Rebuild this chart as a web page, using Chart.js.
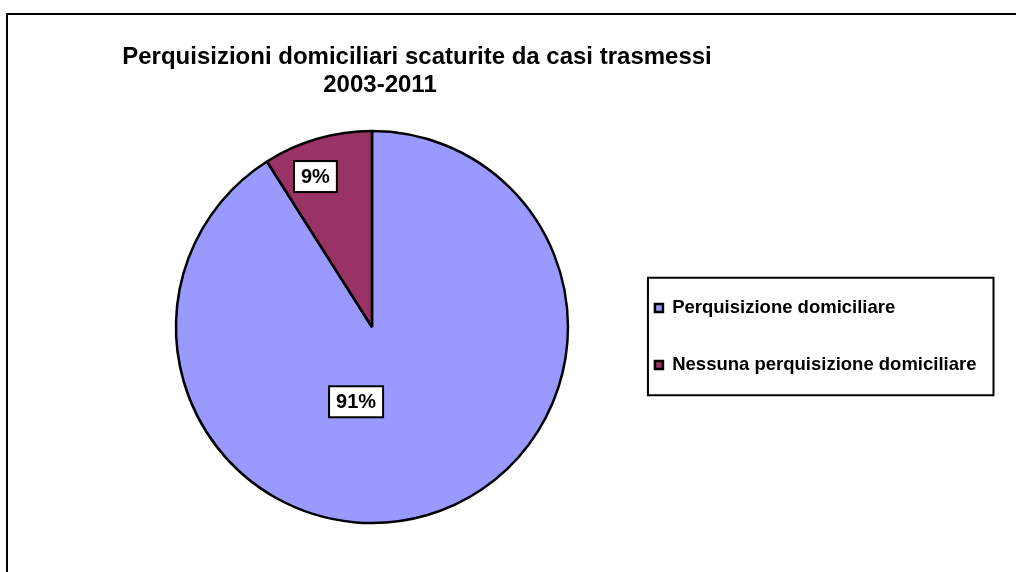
<!DOCTYPE html>
<html>
<head>
<meta charset="utf-8">
<script src="https://cdn.jsdelivr.net/npm/chart.js@4/dist/chart.umd.min.js"></script>
<style>
    html, body { margin: 0; padding: 0; background: #fff; overflow: hidden; }
    #wrap { position: relative; width: 1016px; height: 572px; overflow: hidden; }
    #frame {
        position: absolute; left: 6px; top: 13px; width: 1100px; height: 700px;
        border: 2px solid #000; box-sizing: border-box;
    }
    #chart { position: absolute; left: 0; top: 0; }
</style>
</head>
<body>
<div id="wrap">
    <div id="frame"></div>
    <canvas id="chart" width="1016" height="572"></canvas>
</div>
<script>
// data
const categories = ["Perquisizione domiciliare", "Nessuna perquisizione domiciliare"];
const values = [91, 9];
const valueLabels = ["91%", "9%"];
const titleLines = ["Perquisizioni domiciliari scaturite da casi trasmessi", "2003-2011"];
const sliceColors = ["#9999FF", "#993366"];

const FONT = "'Liberation Sans', Arial, sans-serif";

// title drawn as two lines, each at its own centre (as in the original)
const titlePlugin = {
    id: "twoLineTitle",
    afterDraw(chart, args, opts) {
        const ctx = chart.ctx;
        ctx.save();
        ctx.fillStyle = "#000";
        ctx.font = "bold " + opts.size + "px " + FONT;
        ctx.textAlign = "center";
        ctx.textBaseline = "alphabetic";
        opts.lines.forEach((line, i) => {
            ctx.fillText(line, opts.x[i], opts.y[i]);
        });
        ctx.restore();
    },
};

// boxed percentage labels on the slices
const sliceLabels = {
    id: "sliceLabels",
    afterDatasetsDraw(chart, args, opts) {
        const ctx = chart.ctx;
        const meta = chart.getDatasetMeta(0);
        ctx.save();
        ctx.font = "bold " + opts.size + "px " + FONT;
        ctx.textAlign = "center";
        ctx.textBaseline = "middle";
        meta.data.forEach((arc, i) => {
            const p = arc.getProps(["x", "y", "startAngle", "endAngle", "outerRadius"], true);
            const place = opts.place[i];
            const ang = (p.startAngle + p.endAngle) / 2 + place.shift * Math.PI / 180;
            const r = p.outerRadius * place.frac;
            const cx = p.x + Math.cos(ang) * r;
            const cy = p.y + Math.sin(ang) * r;
            const text = opts.texts[i];
            const w = ctx.measureText(text).width + opts.padX * 2;
            const h = opts.boxH;
            ctx.fillStyle = "#fff";
            ctx.fillRect(cx - w / 2, cy - h / 2, w, h);
            ctx.lineWidth = 2;
            ctx.strokeStyle = "#000";
            ctx.strokeRect(cx - w / 2, cy - h / 2, w, h);
            ctx.fillStyle = "#000";
            ctx.fillText(text, cx, cy + 1);
        });
        ctx.restore();
    },
};

// border round the legend items
const legendFrame = {
    id: "legendFrame",
    afterDraw(chart) {
        const boxes = chart.legend && chart.legend.legendHitBoxes;
        if (!boxes || !boxes.length) return;
        const left = Math.min(...boxes.map((b) => b.left)) - 7;
        const right = Math.max(...boxes.map((b) => b.left + b.width)) + 17;
        const top = boxes[0].top - 21;
        const last = boxes[boxes.length - 1];
        const bottom = last.top + last.height + 21;
        const ctx = chart.ctx;
        ctx.save();
        ctx.lineWidth = 2;
        ctx.strokeStyle = "#000";
        ctx.strokeRect(left, top, right - left, bottom - top);
        ctx.restore();
    },
};

const ctx = document.getElementById("chart").getContext("2d");
new Chart(ctx, {
    type: "pie",
    data: {
        labels: categories,
        datasets: [
            {
                data: values,
                backgroundColor: sliceColors,
                borderColor: "#000000",
                borderWidth: 2.5,
                radius: 196,
            },
        ],
    },
    options: {
        responsive: false,
        animation: false,
        layout: {
            padding: { left: 127.5, right: 29.5, top: 100, bottom: 18 },
        },
        plugins: {
            tooltip: { enabled: false },
            legend: {
                position: "right",
                align: "center",
                title: {
                    display: true,
                    text: " ",
                    padding: 0,
                    font: { size: 19, lineHeight: 1 },
                },
                labels: {
                    boxWidth: 8,
                    boxHeight: 8,
                    padding: 38.5,
                    color: "#000",
                    font: { family: FONT, size: 18.5, weight: "bold" },
                },
            },
            twoLineTitle: {
                lines: titleLines,
                size: 24,
                x: [417, 380],
                y: [64, 92],
            },
            sliceLabels: {
                texts: valueLabels,
                size: 20,
                padX: 7,
                boxH: 31,
                place: [
                    { shift: 28.2, frac: 0.39 },
                    { shift: -4.4, frac: 0.82 },
                ],
            },
        },
    },
    plugins: [titlePlugin, sliceLabels, legendFrame],
});
</script>
</body>
</html>
